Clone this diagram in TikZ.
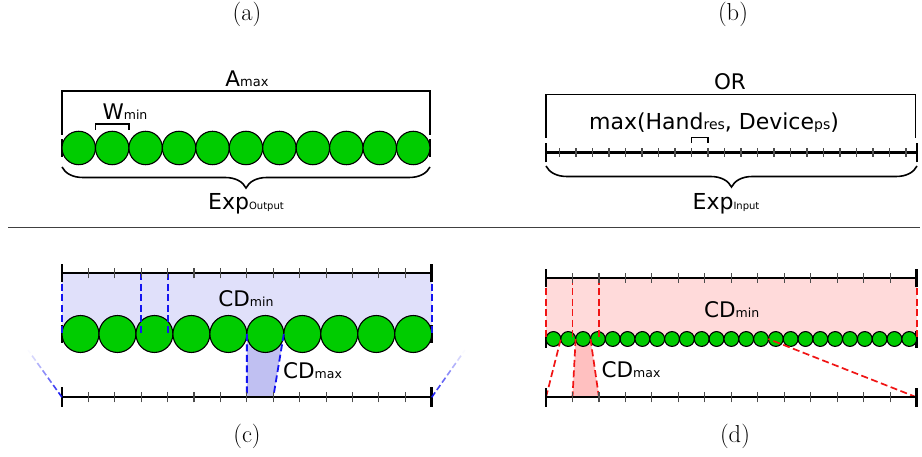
\documentclass[tikz,border=0pt]{standalone}
\usepackage{fontspec}
\newfontfamily\dv{DejaVu Sans}
\usetikzlibrary{decorations.pathreplacing,calc}
\definecolor{grn}{RGB}{0,204,0}
\definecolor{lblue}{RGB}{224,224,250}
\definecolor{mblue}{RGB}{192,192,242}
\definecolor{dblue}{RGB}{20,20,240}
\definecolor{lred}{RGB}{255,218,218}
\definecolor{mred}{RGB}{255,192,192}
\definecolor{dred}{RGB}{240,20,20}
\newcommand{\fs}[1]{\fontsize{#1}{#1}\selectfont}
\tikzset{
  ball/.style={circle, draw=black, line width=1.1pt, fill=grn, inner sep=0pt, outer sep=0pt},
  bracketline/.style={line width=1.4pt, black},
  bracestyle/.style={line width=1.6pt, decorate, decoration={brace, mirror, amplitude=21pt}},
  rulerline/.style={line width=2.2pt, black},
  endbar/.style={line width=2.8pt, black},
  tk/.style={line width=1.1pt, black!70},
  bdash/.style={dblue, line width=1.8pt, dash pattern=on 7pt off 3.5pt},
  rdash/.style={dred, line width=1.7pt, dash pattern=on 7pt off 3.5pt},
  lbl/.style={font=\dv, anchor=base, inner sep=0pt},
  captxt/.style={font=\fs{24.5}, anchor=base, inner sep=0pt}
}
\begin{document}
\begin{tikzpicture}[x=1pt,y=1pt]
\useasboundingbox (0,0) rectangle (922,457);

% captions
\node[captxt] (capa) at (247,436) {(a)};
\node[captxt] (capb) at (733,436) {(b)};
\node[captxt] (capc) at (247,14.7) {(c)};
\node[captxt] (capd) at (735,14.7) {(d)};

% separator
\coordinate (sepL) at (8,229.5);
\coordinate (sepR) at (920,229.5);
\draw[line width=1.3pt, black!75] (sepL) -- (sepR);

% ---------------- (a)
\draw[endbar] (62,300) -- (62,318);
\draw[endbar] (430,300) -- (430,318);
\foreach \i in {0,...,10}
  \node[ball, minimum size=33.45pt] (a\i) at ({62+33.45*(\i+0.5)},309) {};
\draw[bracketline] (62,322) -- (62,366) -- (430,366) -- (430,322);
\node[lbl] (amax) at (247,370.3) {\fs{21.5}A\fs{13}max};
\draw[bracketline] ($(a1.west)+(0,18)$) -- ($(a1.west)+(0,24)$) -- ($(a1.east)+(0,24)$) -- ($(a1.east)+(0,18)$);
\node[lbl] (wmin) at (125,337) {\fs{21.5}W\fs{12.5}min};
\coordinate (braL) at (62,290);
\coordinate (braR) at (430,290);
\draw[bracestyle] (braL) -- (braR);
\node[lbl] (expo) at (246,247) {\fs{22}Exp\fs{10}Output};

% ---------------- (b)
\draw[bracketline] (546,319) -- (546,362.7) -- (915.7,362.7) -- (915.7,319);
\node[lbl] (orl) at (730,367) {\fs{21.5}OR};
\coordinate (rbL) at (546,304.5);
\coordinate (rbR) at (917,304.5);
\draw[rulerline] (rbL) -- (rbR);
\foreach \k in {0,...,21}
  \draw[tk] ({559.5+16.5*\k},300) -- ({559.5+16.5*\k},309);
\draw[endbar] (546,294.7) -- (546,314.3);
\draw[endbar] (917,294.7) -- (917,314.3);
\draw[bracketline] (691.5,314.3) -- (691.5,319.7) -- (708,319.7) -- (708,314.3);
\node[lbl] (maxl) at (714,327) {\fs{22}max(Hand\fs{14}res\fs{22}, Device\fs{14}ps\fs{22})};
\coordinate (brbL) at (546,291);
\coordinate (brbR) at (917,291);
\draw[bracestyle] (brbL) -- (brbR);
\node[lbl] (expi) at (726,247.7) {\fs{22}Exp\fs{10}Input};

% ---------------- (c)
\foreach \k in {0,...,14} {
  \coordinate (ct\k) at ({62+26.4071*\k},183.7);
  \coordinate (cb\k) at ({62+26.4071*\k},59.7);
}
\fill[lblue] (62,183.7) rectangle (431.7,123);
\coordinate (c5w) at ({62+36.97*5},123);
\coordinate (c5e) at ({62+36.97*6},123);
\fill[mblue] (c5w) -- (c5e) -- (cb8) -- (cb7) -- cycle;
\draw[endbar] (62,114) -- (62,132);
\draw[endbar] (431.7,114) -- (431.7,132);
\foreach \i in {0,...,9}
  \node[ball, minimum size=36.97pt] (c\i) at ({62+36.97*(\i+0.5)},123) {};
\draw[bdash] (c5.west) -- (cb7);
\draw[bdash] (c5.east) -- (cb8);
\draw[bdash] (ct0) -- (ct0 |- c0.center);
\draw[bdash] (ct3) -- (ct3 |- c0.center);
\draw[bdash] (ct4) -- (ct4 |- c0.center);
\draw[bdash] (ct14) -- (ct14 |- c0.center);
\draw[rulerline] (ct0) -- (ct14);
\draw[rulerline] (cb0) -- (cb14);
\foreach \k in {1,...,13} {
  \draw[tk] ($(ct\k)+(0,-5)$) -- ($(ct\k)+(0,5)$);
  \draw[tk] ($(cb\k)+(0,-5)$) -- ($(cb\k)+(0,5)$);
}
\draw[endbar] (62,174.7) -- (62,192.7);
\draw[endbar] (431.7,174.7) -- (431.7,192.7);
\draw[endbar] (62,50.3) -- (62,70.3);
\draw[endbar] (431.7,50.3) -- (431.7,70.3);
\coordinate (fadeL) at (28,107);
\coordinate (fadeR) at (465,107);
\foreach \k in {0,...,6} {
  \pgfmathsetmacro\ta{\k*9/58}
  \pgfmathsetmacro\tb{min(1,(\k*9+6)/58)}
  \pgfmathsetmacro\op{max(0,1-\ta-0.05)}
  \draw[dblue, line width=1.6pt, opacity=\op] ($(cb0)!\ta!(fadeL)$) -- ($(cb0)!\tb!(fadeL)$);
  \draw[dblue, line width=1.6pt, opacity=\op] ($(cb14)!\ta!(fadeR)$) -- ($(cb14)!\tb!(fadeR)$);
}
\node[lbl] (cdminc) at (246,150.3) {\fs{21.5}CD\fs{12.5}min};
\node[lbl] (cdmaxc) at (312.5,78) {\fs{21.5}CD\fs{12.5}max};

% ---------------- (d)
\foreach \k in {0,...,14} {
  \coordinate (dt\k) at ({546+26.4786*\k},179.3);
  \coordinate (db\k) at ({546+26.4786*\k},59.7);
}
\fill[lred] (546,179.3) rectangle (916.7,118);
\coordinate (d2w) at ({546+14.828*2},118);
\coordinate (d2e) at ({546+14.828*3},118);
\fill[mred] (d2w) -- (d2e) -- (db2) -- (db1) -- cycle;
\draw[endbar] (546,109.3) -- (546,126);
\draw[endbar] (916.7,109.3) -- (916.7,126);
\foreach \i in {0,...,24}
  \node[ball, minimum size=14.828pt] (d\i) at ({546+14.828*(\i+0.5)},118) {};
\draw[rdash] (d2.west) -- (db1);
\draw[rdash] (d2.east) -- (db2);
\draw[rdash] (db0) -- (d0.east);
\draw[rdash] (db14) -- (d15.west);
\draw[rdash] (dt0) -- (dt0 |- d0.center);
\draw[rdash] (dt1) -- (dt1 |- d0.center);
\draw[rdash] (dt2) -- (dt2 |- d0.center);
\draw[rdash] (dt14) -- (dt14 |- d0.center);
\draw[rulerline] (dt0) -- (dt14);
\draw[rulerline] (db0) -- (db14);
\foreach \k in {1,...,13} {
  \draw[tk] ($(dt\k)+(0,-5)$) -- ($(dt\k)+(0,5)$);
  \draw[tk] ($(db\k)+(0,-5)$) -- ($(db\k)+(0,5)$);
}
\draw[endbar] (546,170.3) -- (546,188);
\draw[endbar] (916.7,170.3) -- (916.7,188);
\draw[endbar] (546,50.3) -- (546,69);
\draw[endbar] (916.7,50.3) -- (916.7,69);
\node[lbl] (cdmind) at (731.7,139.7) {\fs{21.5}CD\fs{12.5}min};
\node[lbl] (cdmaxd) at (631,79.3) {\fs{21.5}CD\fs{12.5}max};
\end{tikzpicture}
\end{document}
